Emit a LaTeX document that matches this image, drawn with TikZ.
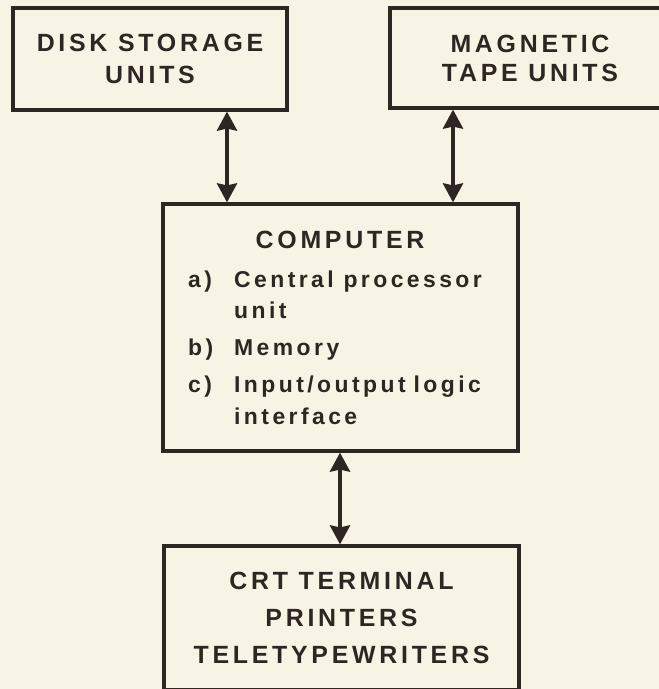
\documentclass[tikz,border=0pt]{standalone}
\usepackage{fontspec}
\setmainfont{Liberation Sans}[LetterSpace=15]
\usetikzlibrary{arrows.meta}
\definecolor{paper}{RGB}{247,244,229}
\definecolor{ink}{RGB}{46,38,34}
\tikzset{
  box/.style={draw=ink, line width=3.2bp, fill=none, inner sep=0pt, align=center, text=ink},
  lbl/.style={text=ink, inner sep=0pt, font=\fontsize{23}{30}\bfseries\selectfont},
  conn/.style={draw=ink, line width=3.8bp, {Stealth[width=20bp,length=19bp,inset=2bp]}-{Stealth[width=20bp,length=19bp,inset=2bp]}}
}
\begin{document}
\begin{tikzpicture}[x=1bp,y=-1bp]
\fill[paper] (0,0) rectangle (659,689);
\useasboundingbox (0,0) rectangle (659,689);
\clip (0,0) rectangle (659,689);
% boxes
\node[box, minimum width=274bp, minimum height=102bp, font=\fontsize{25}{32}\bfseries\selectfont] (disk) at (150,59) {DISK STORAGE\\UNITS};
\node[box, minimum width=280bp, minimum height=100bp, font=\fontsize{25}{29}\bfseries\selectfont] (tape) at (530,58) {MAGNETIC\\TAPE UNITS};
\node[box, minimum width=355bp, minimum height=247bp] (comp) at (340.5,327.5) {};
\node[box, minimum width=355bp, minimum height=144bp, font=\fontsize{25}{37}\bfseries\selectfont, text depth=0pt] (crt) at (341.5,618) {CRT TERMINAL\\PRINTERS\\TELETYPEWRITERS};
% computer text
\node[lbl, anchor=base, font=\fontsize{25}{30}\bfseries\selectfont] (ctitle) at (340,248) {COMPUTER};
\node[lbl, anchor=base west] (ia) at (188,287) {a)};
\node[lbl, anchor=base west] (ta) at (234,287) {Central processor};
\node[lbl, anchor=base west] (ta2) at (234,318) {unit};
\node[lbl, anchor=base west] (ib) at (188,355) {b)};
\node[lbl, anchor=base west] (tb) at (234,355) {Memory};
\node[lbl, anchor=base west] (ic) at (188,392) {c)};
\node[lbl, anchor=base west] (tc) at (234,392) {Input/output\hspace{0.35em}logic};
\node[lbl, anchor=base west] (tc2) at (234,424) {interface};
% connector columns
\coordinate (x1) at (227,0);
\coordinate (x2) at (453,0);
\coordinate (x3) at (340,0);
\draw[conn] (disk.south -| x1) -- (comp.north -| x1);
\draw[conn] (tape.south -| x2) -- (comp.north -| x2);
\draw[conn] (comp.south -| x3) -- (crt.north -| x3);
\end{tikzpicture}
\end{document}
